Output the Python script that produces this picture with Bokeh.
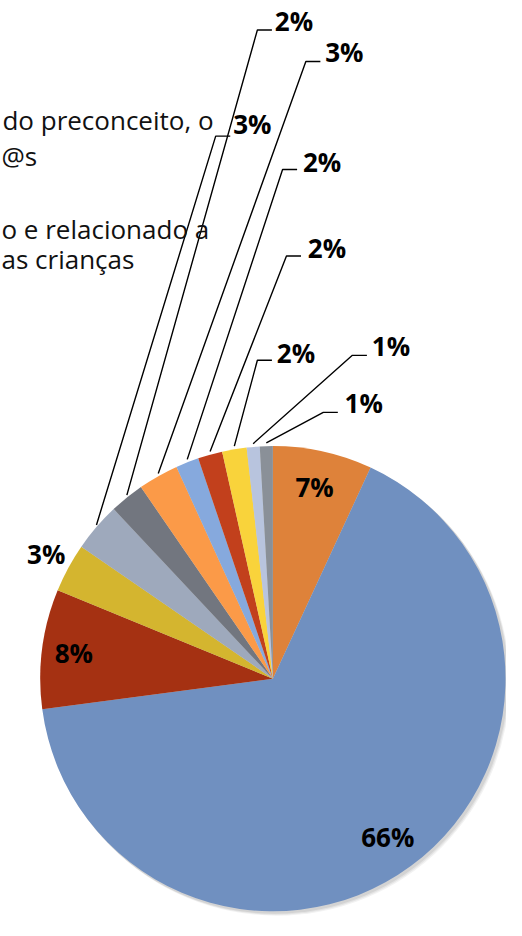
import numpy as np
from bokeh.plotting import figure
from bokeh.models import Range1d
from bokeh.embed import file_html
from bokeh.resources import INLINE
from bokeh.core.properties import value

# ---- data ----
categories = ["Cat 1", "Cat 2", "Cat 3", "Cat 4", "Cat 5", "Cat 6",
              "Cat 7", "Cat 8", "Cat 9", "Cat 10", "Cat 11", "Cat 12"]
values = [6.9, 66.0, 8.3, 3.4, 3.4, 2.4, 2.8, 1.6, 1.7, 1.7, 0.9, 0.9]
pct_labels = ["7%", "66%", "8%", "3%", "3%", "2%", "3%", "2%", "2%", "2%", "1%", "1%"]
legend_fragments = ["do preconceito, o", "@s", "o e relacionado a", "as crianças"]

colors = ["#DE823A", "#7090C0", "#A53112", "#D4B52F", "#9EA9BC", "#72767F",
          "#FB9A48", "#86A9DD", "#C2401C", "#F9D33B", "#B8C4DE", "#8A9098"]

# ---- layout (reference px -> data) ----
REF_W, REF_H = 522, 936
def sy(y):
    return REF_H - y

CX, CY, R = 281, sy(690), 240

p = figure(width=506, height=920, x_range=Range1d(0, REF_W), y_range=Range1d(0, REF_H),
           output_backend="svg", toolbar_location=None, min_border=0,
           x_axis_location=None, y_axis_location=None)
p.grid.visible = False
p.outline_line_color = None
p.background_fill_color = "white"
p.border_fill_color = "white"

vals = np.array(values, dtype=float)
frac = vals / vals.sum()
cum_end = np.cumsum(frac)
cum_start = cum_end - frac
start_a = np.pi / 2 - 2 * np.pi * cum_start
end_a = np.pi / 2 - 2 * np.pi * cum_end
mid_a = (start_a + end_a) / 2

# soft shadow
for off, a in [(4, 0.05), (3, 0.06), (2, 0.07)]:
    p.circle(x=[CX + off], y=[CY - off], radius=R + 0.5, fill_color="black",
             fill_alpha=a, line_color=None)

p.wedge(x=CX, y=CY, radius=R, start_angle=list(start_a), end_angle=list(end_a),
        direction="clock", fill_color=colors, line_color=None)

FONT = value("Open Sans")

# labels inside / outside without leaders
inner = {0: 200, 1: 200, 2: 207, 3: 266}
ix, iy, it = [], [], []
for i, r in inner.items():
    ix.append(CX + r * np.cos(mid_a[i]))
    iy.append(CY + r * np.sin(mid_a[i]))
    it.append(pct_labels[i])
p.text(x=ix, y=iy, text=it, text_font=FONT, text_font_style="bold",
       text_font_size="26px", text_align="center", text_baseline="middle",
       text_color="black")

# labels with leader lines (slices 4..11)
corners = [(222, 138), (265, 30), (315, 62), (291, 172),
           (295, 260), (265, 366), (363, 361), (333, 419)]
label_pos = [(240, 126), (283, 21), (335, 52), (312, 164),
             (317, 252), (285, 359), (383, 352), (355, 409)]
xs, ys, lx, ly, lt = [], [], [], [], []
for k, i in enumerate(range(4, 12)):
    ex = CX + R * np.cos(mid_a[i])
    ey = CY + R * np.sin(mid_a[i])
    cx, cy = corners[k]
    xs.append([ex, cx, cx + 15])
    ys.append([ey, sy(cy), sy(cy)])
    lx.append(label_pos[k][0])
    ly.append(sy(label_pos[k][1]))
    lt.append(pct_labels[i])
p.multi_line(xs=xs, ys=ys, line_color="black", line_width=1.4)
p.text(x=lx, y=ly, text=lt, text_font=FONT, text_font_style="bold",
       text_font_size="26px", text_align="left", text_baseline="middle",
       text_color="black")

# legend fragments (left part of the legend lies outside the chart)
leg_x = [2, 1, 1, 1]
leg_y = [sy(122), sy(158), sy(232), sy(263)]
p.text(x=leg_x, y=leg_y, text=legend_fragments, text_font=FONT,
       text_font_size="26px", text_align="left", text_baseline="alphabetic",
       text_color="#111111")

open("out.html", "w").write(file_html(p, INLINE))
